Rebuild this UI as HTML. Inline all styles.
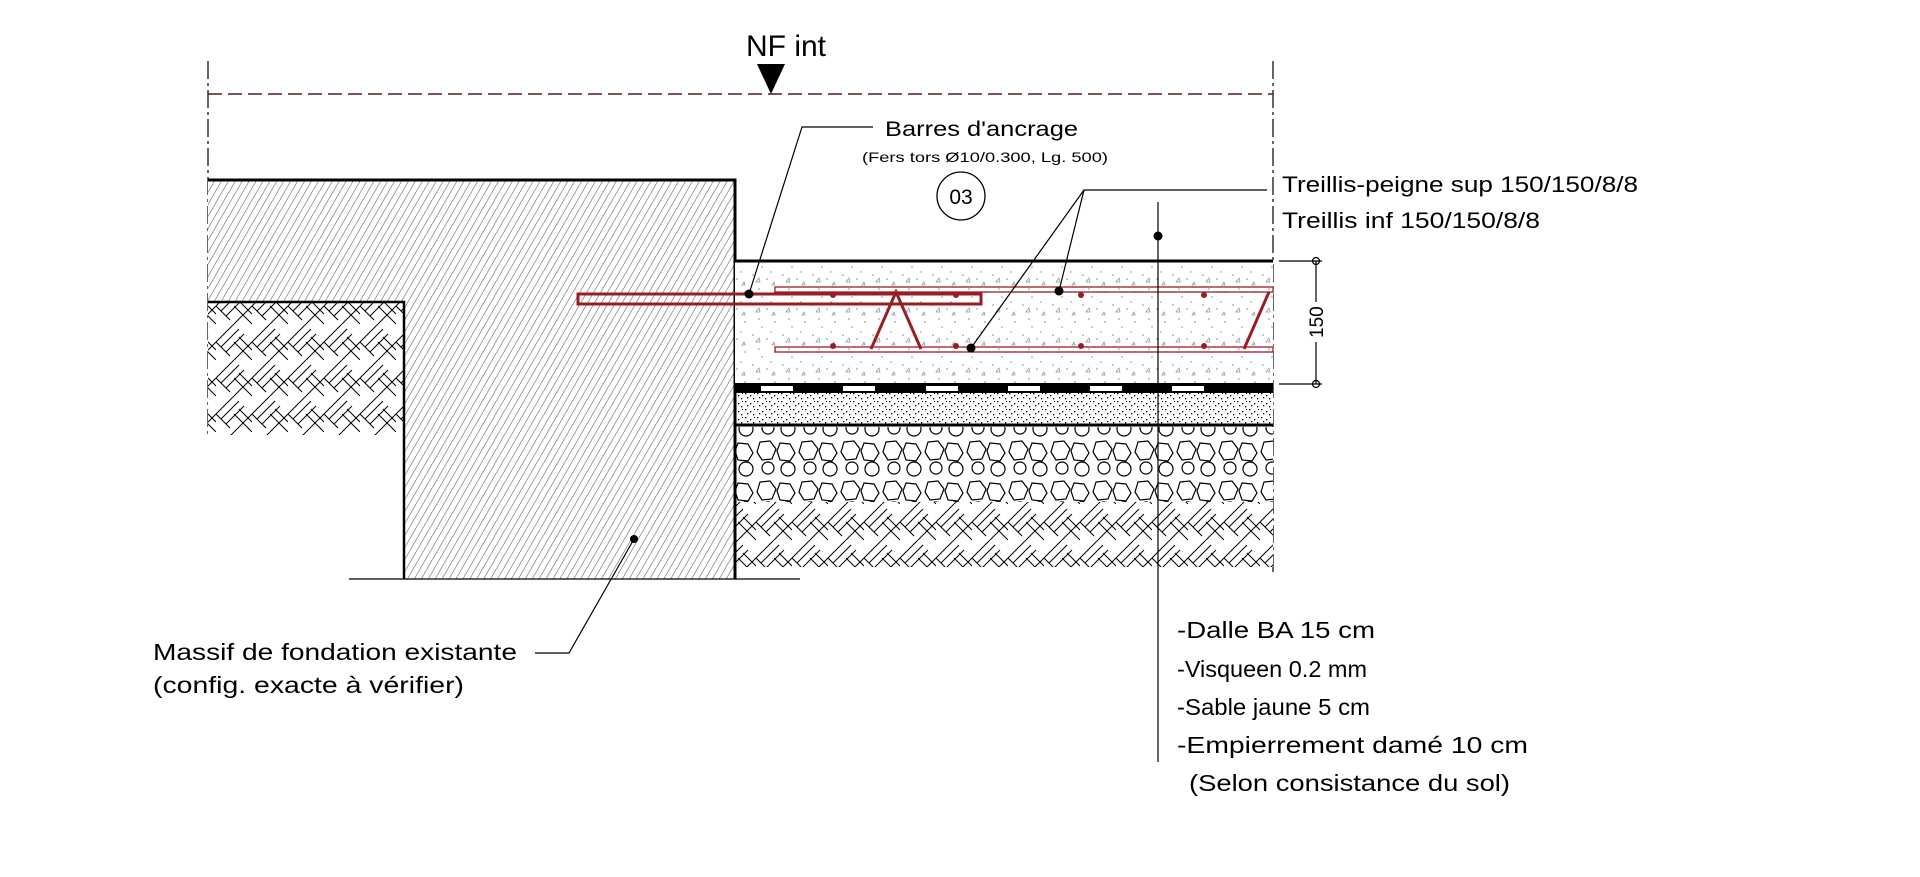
<!DOCTYPE html>
<html><head><meta charset="utf-8"><style>
html,body{margin:0;padding:0;background:#fff;width:1920px;height:877px;overflow:hidden}
svg{display:block}
text{font-family:"Liberation Sans",sans-serif;fill:#000}
</style></head><body>
<svg width="1920" height="877" viewBox="0 0 1920 877" xmlns="http://www.w3.org/2000/svg">
<defs>
<pattern id="diag" width="6" height="6" patternUnits="userSpaceOnUse" patternTransform="rotate(30)">
<rect width="6" height="6" fill="#fff"/><line x1="0" y1="0" x2="0" y2="6" stroke="#666" stroke-width="1.2"/>
</pattern>
<pattern id="herr" width="36" height="36" patternUnits="userSpaceOnUse">
<rect width="36" height="36" fill="#fff"/>
<g stroke="#000" stroke-width="1">
<line x1="0" y1="18" x2="18" y2="0"/><line x1="5" y1="23" x2="23" y2="5"/><line x1="10" y1="28" x2="28" y2="10"/>
<line x1="18" y1="36" x2="36" y2="18"/><line x1="18" y1="18" x2="36" y2="36"/><line x1="23" y1="13" x2="36" y2="26"/>
<line x1="0" y1="18" x2="14" y2="32"/>
</g></pattern>
<pattern id="conc" width="30" height="30" patternUnits="userSpaceOnUse">
<rect width="30" height="30" fill="#fff"/>
<g fill="#888"><circle cx="3" cy="5" r="0.8"/><circle cx="17" cy="9" r="0.8"/><circle cx="25" cy="22" r="0.8"/><circle cx="9" cy="19" r="0.8"/><circle cx="21" cy="2" r="0.7"/><circle cx="12" cy="27" r="0.7"/></g>
<path d="M6 12l3-4 1 4z M22 15l2-3 1 3z" fill="none" stroke="#999" stroke-width="0.8"/>
</pattern>
<pattern id="sand" width="12" height="8" patternUnits="userSpaceOnUse">
<rect width="12" height="8" fill="#fff"/>
<g fill="#000"><rect x="1" y="1" width="1.3" height="1.3"/><rect x="6" y="3" width="1.3" height="1.3"/><rect x="9" y="6" width="1.3" height="1.3"/><rect x="3" y="5" width="1.3" height="1.3"/><rect x="10" y="1" width="1" height="1"/></g>
</pattern>
<pattern id="grav" width="42" height="40" patternUnits="userSpaceOnUse">
<rect width="42" height="40" fill="#fff"/>
<g fill="none" stroke="#000" stroke-width="1.2">
<path d="M4 2 l10 -1 l6 8 l-4 10 l-10 1 l-5 -8z"/>
<path d="M24 3 l10 1 l5 9 l-5 8 l-10 -1 l-3 -9z"/>
<circle cx="12" cy="28" r="6"/><circle cx="32" cy="29" r="7"/>
</g></pattern>
</defs>

<line x1="208" y1="61" x2="208" y2="435" stroke="#000" stroke-width="1.2" stroke-dasharray="18,4,3,4"/>
<line x1="1273" y1="61" x2="1273" y2="575" stroke="#000" stroke-width="1.2" stroke-dasharray="18,4,3,4"/>
<line x1="208" y1="94" x2="1273" y2="94" stroke="#5a1a1a" stroke-width="1.5" stroke-dasharray="14,6"/>
<polygon points="757,64 785,64 771,94" fill="#000"/>
<text x="746" y="56" font-size="30">NF int</text>

<rect x="208" y="302" width="196" height="133" fill="url(#herr)"/>
<polygon points="208,180 735,180 735,579 404,579 404,302 208,302" fill="url(#diag)" stroke="none"/>
<polyline points="208,180 735,180 735,579" fill="none" stroke="#000" stroke-width="3"/>
<polyline points="208,302 404,302 404,579" fill="none" stroke="#000" stroke-width="2.5"/>
<line x1="349" y1="579" x2="800" y2="579" stroke="#000" stroke-width="1.2"/>

<rect x="735" y="261" width="538" height="123" fill="url(#conc)"/>
<line x1="735" y1="261" x2="1273" y2="261" stroke="#000" stroke-width="3"/>
<rect x="735" y="383" width="538" height="10" fill="#000"/>
<g fill="#fff"><rect x="761" y="386" width="32" height="5"/><rect x="843" y="386" width="32" height="5"/><rect x="926" y="386" width="32" height="5"/><rect x="1008" y="386" width="32" height="5"/><rect x="1090" y="386" width="32" height="5"/><rect x="1172" y="386" width="32" height="5"/></g>
<rect x="735" y="393" width="538" height="31" fill="url(#sand)"/>
<line x1="735" y1="425" x2="1273" y2="425" stroke="#000" stroke-width="3"/>
<rect x="735" y="427" width="538" height="75" fill="url(#grav)"/>
<rect x="735" y="502" width="538" height="65" fill="url(#herr)"/>
<line x1="735" y1="384" x2="735" y2="579" stroke="#000" stroke-width="3"/>

<g stroke="#9b1c25" fill="none">
<rect x="775" y="287" width="498" height="5" stroke-width="1.3"/>
<rect x="775" y="347" width="498" height="5" stroke-width="1.3"/>
<rect x="578" y="294" width="403" height="10" stroke-width="3"/>
<polyline points="871,349 896,292 921,349" stroke-width="3"/>
<polyline points="1244,349 1269,292" stroke-width="3"/>
</g>
<g fill="#9b1c25"><circle cx="833" cy="295" r="3"/><circle cx="956" cy="295" r="3"/><circle cx="1081" cy="295" r="3"/><circle cx="1204" cy="295" r="3"/><circle cx="833" cy="346" r="3"/><circle cx="956" cy="346" r="3"/><circle cx="1081" cy="346" r="3"/><circle cx="1204" cy="346" r="3"/></g>

<g stroke="#000" stroke-width="1.2" fill="none">
<line x1="1279" y1="261" x2="1322" y2="261"/><line x1="1279" y1="384" x2="1322" y2="384"/>
<line x1="1316" y1="261" x2="1316" y2="384"/>
<circle cx="1316" cy="261" r="3.5"/><circle cx="1316" cy="384" r="3.5"/>
</g>
<rect x="1306" y="302" width="20" height="40" fill="#fff"/>
<text x="0" y="0" font-size="19" transform="translate(1323,338) rotate(-90)">150</text>

<text x="885" y="136" font-size="21" textLength="193" lengthAdjust="spacingAndGlyphs">Barres d'ancrage</text>
<text x="862" y="162" font-size="14" textLength="246" lengthAdjust="spacingAndGlyphs">(Fers tors Ø10/0.300, Lg. 500)</text>
<circle cx="961" cy="196" r="24" fill="none" stroke="#000" stroke-width="1.3"/>
<text x="961" y="204" font-size="21" text-anchor="middle">03</text>
<polyline points="873,127 802,127 749,294" fill="none" stroke="#000" stroke-width="1.2"/>
<circle cx="749" cy="294" r="4.5"/>

<text x="1282" y="192" font-size="22" textLength="356" lengthAdjust="spacingAndGlyphs">Treillis-peigne sup 150/150/8/8</text>
<text x="1282" y="228" font-size="22" textLength="258" lengthAdjust="spacingAndGlyphs">Treillis inf 150/150/8/8</text>
<polyline points="1267,190 1084,190 1059,291" fill="none" stroke="#000" stroke-width="1.2"/>
<line x1="1084" y1="190" x2="971" y2="348" stroke="#000" stroke-width="1.2"/>
<circle cx="1059" cy="291" r="4.5"/><circle cx="971" cy="348" r="4.5"/>

<line x1="1158" y1="202" x2="1158" y2="762" stroke="#000" stroke-width="1.2"/>
<circle cx="1158" cy="236" r="4.5"/>
<g font-size="23">
<text x="1177" y="638" textLength="198" lengthAdjust="spacingAndGlyphs">-Dalle BA 15 cm</text>
<text x="1177" y="677" textLength="190" lengthAdjust="spacingAndGlyphs">-Visqueen 0.2 mm</text>
<text x="1177" y="715" textLength="193" lengthAdjust="spacingAndGlyphs">-Sable jaune 5 cm</text>
<text x="1177" y="753" textLength="351" lengthAdjust="spacingAndGlyphs">-Empierrement damé 10 cm</text>
<text x="1189" y="791" textLength="321" lengthAdjust="spacingAndGlyphs">(Selon consistance du sol)</text>
</g>

<g font-size="23">
<text x="153" y="660" textLength="364" lengthAdjust="spacingAndGlyphs">Massif de fondation existante</text>
<text x="153" y="693" textLength="311" lengthAdjust="spacingAndGlyphs">(config. exacte à vérifier)</text>
</g>
<polyline points="535,653 569,653 634,539" fill="none" stroke="#000" stroke-width="1.2"/>
<circle cx="634" cy="539" r="4"/>
</svg>
</body></html>
